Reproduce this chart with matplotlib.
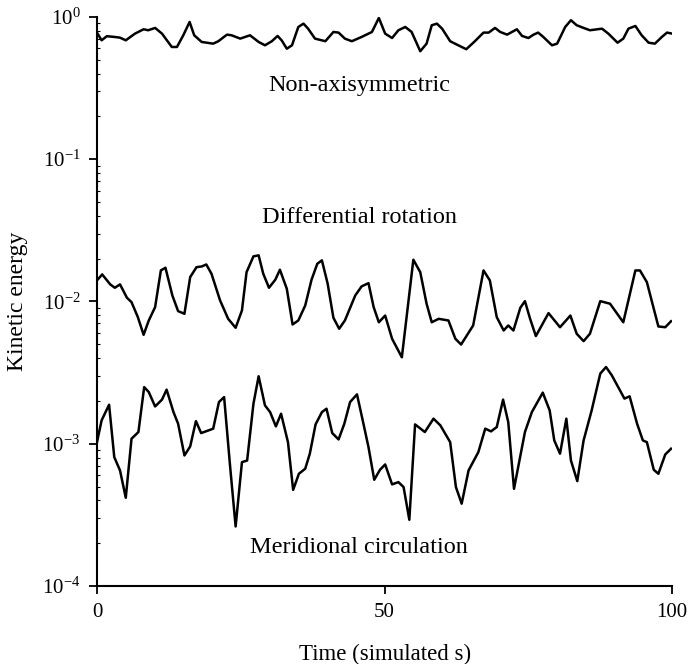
import matplotlib
matplotlib.use("Agg")
import matplotlib.pyplot as plt
import numpy as np

plt.rcParams['font.family'] = ['Liberation Serif', 'DejaVu Serif']
plt.rcParams['mathtext.fontset'] = 'stix'

# Non-axisymmetric kinetic energy
t_non = [0.1, 0.8, 1.7, 3.1, 4.0, 5.0, 6.6, 8.1, 8.9, 10.1, 11.3, 13.0, 13.9, 15.0, 16.1,
         16.9, 18.2, 20.2, 21.1, 22.6, 23.4, 24.9, 26.6, 28.1, 29.2, 30.4, 31.4, 32.1, 33.0,
         33.9, 35.0, 35.9, 36.7, 37.9, 39.7, 41.1, 42.0, 43.1, 44.3, 46.0, 47.8, 49.0, 50.1,
         51.3, 52.4, 53.6, 54.7, 56.2, 57.3, 58.2, 59.1, 60.0, 61.4, 62.6, 64.2, 65.7, 67.2,
         68.1, 69.2, 70.1, 71.3, 73.0, 73.9, 75.0, 75.9, 76.7, 77.6, 79.1, 80.0, 81.4, 82.4,
         83.4, 84.6, 85.7, 87.8, 88.9, 90.5, 91.5, 92.4, 93.6, 94.7, 95.9, 97.0, 98.2, 99.1, 100.0]
e_non = [0.763, 0.685, 0.732, 0.723, 0.715, 0.685, 0.763, 0.819, 0.806, 0.837, 0.763, 0.615,
         0.615, 0.743, 0.922, 0.743, 0.667, 0.649, 0.675, 0.751, 0.743, 0.704, 0.743, 0.667,
         0.632, 0.675, 0.735, 0.685, 0.598, 0.632, 0.850, 0.897, 0.827, 0.704, 0.675, 0.784,
         0.776, 0.704, 0.675, 0.723, 0.784, 0.984, 0.763, 0.711, 0.806, 0.850, 0.784, 0.574,
         0.649, 0.874, 0.897, 0.827, 0.675, 0.638, 0.593, 0.675, 0.776, 0.776, 0.837, 0.784,
         0.751, 0.819, 0.735, 0.711, 0.751, 0.776, 0.723, 0.632, 0.649, 0.850, 0.948, 0.874,
         0.837, 0.806, 0.827, 0.763, 0.659, 0.704, 0.827, 0.864, 0.743, 0.659, 0.649, 0.723,
         0.776, 0.763]

# Differential rotation kinetic energy
t_dif = [0.1, 0.9, 2.3, 3.1, 4.0, 5.2, 6.0, 7.1, 8.1, 9.0, 10.1, 11.1, 11.9, 13.1, 14.1,
         15.2, 16.2, 17.3, 18.2, 19.0, 19.9, 21.4, 22.8, 24.1, 25.2, 26.0, 27.2, 28.1, 28.9,
         29.9, 31.0, 31.8, 33.0, 34.0, 35.0, 36.2, 37.3, 38.3, 39.1, 40.1, 41.1, 42.1, 43.1,
         44.9, 46.0, 47.2, 48.1, 49.0, 50.1, 51.3, 53.0, 55.0, 56.2, 57.3, 58.2, 59.4, 61.1,
         62.3, 63.3, 65.4, 67.2, 68.3, 69.5, 70.7, 71.5, 72.4, 73.6, 74.4, 75.3, 76.3, 78.5,
         80.5, 82.3, 83.4, 84.6, 85.7, 87.5, 89.2, 91.5, 93.6, 94.4, 95.6, 97.6, 98.8, 99.8]
e_dif = [0.01422, 0.01549, 0.01318, 0.01248, 0.01318, 0.01062, 0.00989, 0.00776, 0.00583,
         0.00735, 0.00912, 0.01652, 0.01726, 0.01102, 0.00855, 0.00819, 0.01483, 0.01742,
         0.01762, 0.01820, 0.01567, 0.01016, 0.00755, 0.00653, 0.00865, 0.01607, 0.02075,
         0.02109, 0.01567, 0.01248, 0.01422, 0.01671, 0.01227, 0.00689, 0.00735, 0.00937,
         0.01422, 0.01841, 0.01945, 0.01334, 0.00768, 0.00643, 0.00735, 0.01102, 0.01276,
         0.01345, 0.00912, 0.00714, 0.00796, 0.00547, 0.00405, 0.01965, 0.01607, 0.00964,
         0.00714, 0.00755, 0.00735, 0.00547, 0.00498, 0.00678, 0.01652, 0.01406, 0.00776,
         0.00625, 0.00678, 0.00625, 0.00903, 0.01005, 0.00755, 0.00571, 0.00828, 0.00659,
         0.00796, 0.00593, 0.00526, 0.00593, 0.01005, 0.00964, 0.00714, 0.01652, 0.01652,
         0.01367, 0.00667, 0.00659, 0.00726]

# Meridional circulation kinetic energy
t_mer = [0.0, 0.8, 2.1, 3.0, 4.0, 5.0, 6.0, 7.2, 8.2, 9.0, 10.1, 11.3, 12.1, 13.3, 14.1,
         15.2, 16.2, 17.2, 18.1, 19.4, 20.2, 21.2, 22.1, 23.1, 24.1, 25.2, 26.1, 27.2, 28.1,
         29.2, 30.1, 31.1, 32.0, 33.2, 34.1, 35.1, 36.2, 37.0, 38.0, 39.1, 39.9, 40.9, 42.0,
         43.0, 44.0, 45.2, 46.3, 47.2, 48.2, 49.2, 50.1, 51.3, 52.4, 53.3, 54.3, 55.3, 57.0,
         58.5, 59.7, 61.4, 62.4, 63.4, 64.6, 66.3, 67.5, 68.5, 69.5, 70.6, 71.5, 72.5, 74.4,
         75.6, 77.5, 78.7, 79.5, 80.5, 81.6, 82.4, 83.5, 84.6, 86.0, 87.5, 88.5, 89.5, 91.7,
         92.6, 93.9, 94.9, 95.6, 96.8, 97.6, 98.8, 99.8]
e_mer = [0.001026, 0.001459, 0.001879, 0.000805, 0.000649, 0.000417, 0.001084, 0.001208,
         0.002500, 0.002307, 0.001828, 0.002042, 0.002399, 0.001667, 0.001382, 0.000827,
         0.000957, 0.001442, 0.001188, 0.001241, 0.001276, 0.001963, 0.002127, 0.000723,
         0.000262, 0.000742, 0.000762, 0.001911, 0.002979, 0.001860, 0.001667, 0.001324,
         0.001625, 0.001026, 0.000474, 0.000615, 0.000667, 0.000851, 0.001367, 0.001667,
         0.001762, 0.001188, 0.001072, 0.001382, 0.001963, 0.002223, 0.001396, 0.000946,
         0.000558, 0.000656, 0.000715, 0.000518, 0.000537, 0.000496, 0.000292, 0.001367,
         0.001208, 0.001500, 0.001345, 0.001026, 0.000496, 0.000379, 0.000649, 0.000873,
         0.001276, 0.001221, 0.001309, 0.002042, 0.001419, 0.000482, 0.001208, 0.001667,
         0.002286, 0.001714, 0.001055, 0.000851, 0.001500, 0.000762, 0.000546, 0.001055,
         0.001714, 0.003112, 0.003459, 0.003027, 0.002075, 0.002153, 0.001382, 0.001055,
         0.001026, 0.000656, 0.000615, 0.000841, 0.000922]

labels = ["Non-axisymmetric", "Differential rotation", "Meridional circulation"]
label_y = [0.327, 0.0391, 1.86e-4]

fig = plt.figure(figsize=(6.88, 6.64), dpi=100)
ax = fig.add_axes([0.141, 0.1175, 0.836, 0.857])

for t, e in [(t_non, e_non), (t_dif, e_dif), (t_mer, e_mer)]:
    ax.plot(t, e, color='black', lw=1.8, solid_joinstyle='round')

for lab, y in zip(labels, label_y):
    ax.text(45.6, y, lab, ha='center', va='center', fontsize=17.5)

ax.set_yscale('log')
ax.set_ylim(1e-4, 1)
ax.set_xlim(0, 100)
ax.set_xticks([0, 50, 100])
ax.set_yticks([1e-4, 1e-3, 1e-2, 1e-1, 1])

for s in ['top', 'right']:
    ax.spines[s].set_visible(False)
for s in ['left', 'bottom']:
    ax.spines[s].set_linewidth(1.5)

ax.tick_params(axis='both', which='major', direction='out', length=6, width=1.3,
               labelsize=15, pad=6)
ax.tick_params(axis='y', which='minor', direction='in', length=2, width=0.8)

ax.set_xlabel("Time (simulated s)", fontsize=16.5, labelpad=16)
ax.set_ylabel("Kinetic energy", fontsize=17, labelpad=10)

fig.savefig("out.png", dpi=100)
